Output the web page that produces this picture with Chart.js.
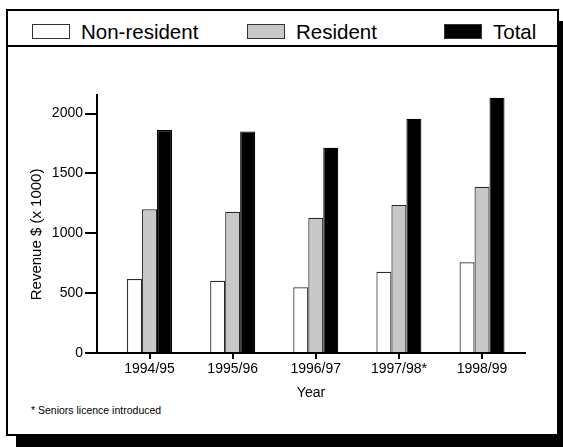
<!DOCTYPE html>
<html>
<head>
<meta charset="utf-8">
<script src="https://cdn.jsdelivr.net/npm/chart.js@4/dist/chart.umd.min.js"></script>
<style>
  html, body { margin: 0; padding: 0; background: #fff; }
  body { width: 563px; height: 447px; position: relative; overflow: hidden; font-family: "Liberation Sans", Arial, sans-serif; }
  #frame { position: absolute; left: 6px; top: 9px; width: 553px; height: 427px; box-sizing: border-box;
           border: 2px solid #000; background: #fff; box-shadow: 10px 12px 0 0 #000; }
  #legendBar { position: absolute; left: 0; top: 0; width: 100%; height: 36px; box-sizing: border-box; border-bottom: 2px solid #000; }
  .lg { position: absolute; top: 12px; height: 17px; display: flex; align-items: center; font-size: 20.5px; color: #000; white-space: nowrap; }
  .lg .sw { width: 38px; height: 15px; box-sizing: border-box; border: 1px solid #333; margin-right: 11px; }
  #foot { position: absolute; left: 31px; top: 404px; font-size: 10.5px; color: #000; white-space: nowrap; }
  #c { position: absolute; left: 0; top: 0; }
</style>
</head>
<body>
<div id="frame"><div id="legendBar"></div></div>
<div id="foot">* Seniors licence introduced</div>
<canvas id="c" width="563" height="447"></canvas>
<script>
// ---- data ----
const categories = ["1994/95", "1995/96", "1996/97", "1997/98*", "1998/99"];
const nonResident = [618, 604, 549, 679, 757];
const resident    = [1200, 1180, 1130, 1236, 1389];
const total       = [1862, 1851, 1714, 1957, 2132];
const yTicks      = [0, 500, 1000, 1500, 2000];
const seriesNames = ["Non-resident", "Resident", "Total"];
const seriesFill  = ["#ffffff", "#c8c8c8", "#000000"];

const legendLefts = [24, 239, 436];

Chart.defaults.font.family = '"Liberation Sans", Arial, sans-serif';
Chart.defaults.color = '#000';

const toPts = arr => arr.map((v, i) => ({ x: i, y: v }));
const seriesData = [nonResident, resident, total];

const datasets = seriesNames.map((name, k) => ({
  label: name,
  data: toPts(seriesData[k]),
  backgroundColor: seriesFill[k],
  borderColor: k === 2 ? '#000' : '#2a2a2a',
  borderWidth: 1.2,
  borderSkipped: 'start',
  barPercentage: 1.0,
  categoryPercentage: 0.5413
}));

// HTML legend from the series arrays
const lb = document.getElementById('legendBar');
seriesNames.forEach((name, k) => {
  const d = document.createElement('div');
  d.className = 'lg';
  d.style.left = legendLefts[k] + 'px';
  const sw = document.createElement('span');
  sw.className = 'sw';
  sw.style.background = seriesFill[k];
  const t = document.createElement('span');
  t.textContent = name;
  d.appendChild(sw); d.appendChild(t);
  lb.appendChild(d);
});

new Chart(document.getElementById('c'), {
  type: 'bar',
  data: { datasets },
  options: {
    responsive: false,
    animation: false,
    events: [],
    layout: { padding: { left: 27, right: 38, top: 95, bottom: 45 } },
    plugins: { legend: { display: false }, tooltip: { enabled: false } },
    scales: {
      x: {
        type: 'linear',
        min: -0.632, max: 4.517,
        offset: false,
        grid: { offset: false, drawOnChartArea: false, drawTicks: true, tickLength: 6, color: '#000', lineWidth: 2 },
        border: { display: true, color: '#000', width: 2 },
        afterBuildTicks: s => { s.ticks = categories.map((c, i) => ({ value: i })); },
        afterFit: s => { s.height = 49; },
        ticks: {
          autoSkip: false, maxRotation: 0, padding: 2,
          font: { size: 14 },
          callback: v => categories[v]
        },
        title: { display: true, text: 'Year', font: { size: 14 }, padding: { top: 0, bottom: 0 } }
      },
      y: {
        min: 0, max: 2155,
        afterBuildTicks: s => { s.ticks = yTicks.map(v => ({ value: v })); },
        afterFit: s => { s.width = 70; },
        grid: { drawOnChartArea: false, drawTicks: true, tickLength: 12, color: '#000', lineWidth: 2 },
        border: { display: true, color: '#000', width: 2 },
        ticks: { padding: 2, font: { size: 14 }, callback: v => String(v) },
        title: { display: true, text: 'Revenue $ (x 1000)\u00a0\u00a0\u00a0\u00a0\u00a0', font: { size: 15 }, padding: { top: 1, bottom: 0 } }
      }
    }
  }
});
</script>
</body>
</html>
